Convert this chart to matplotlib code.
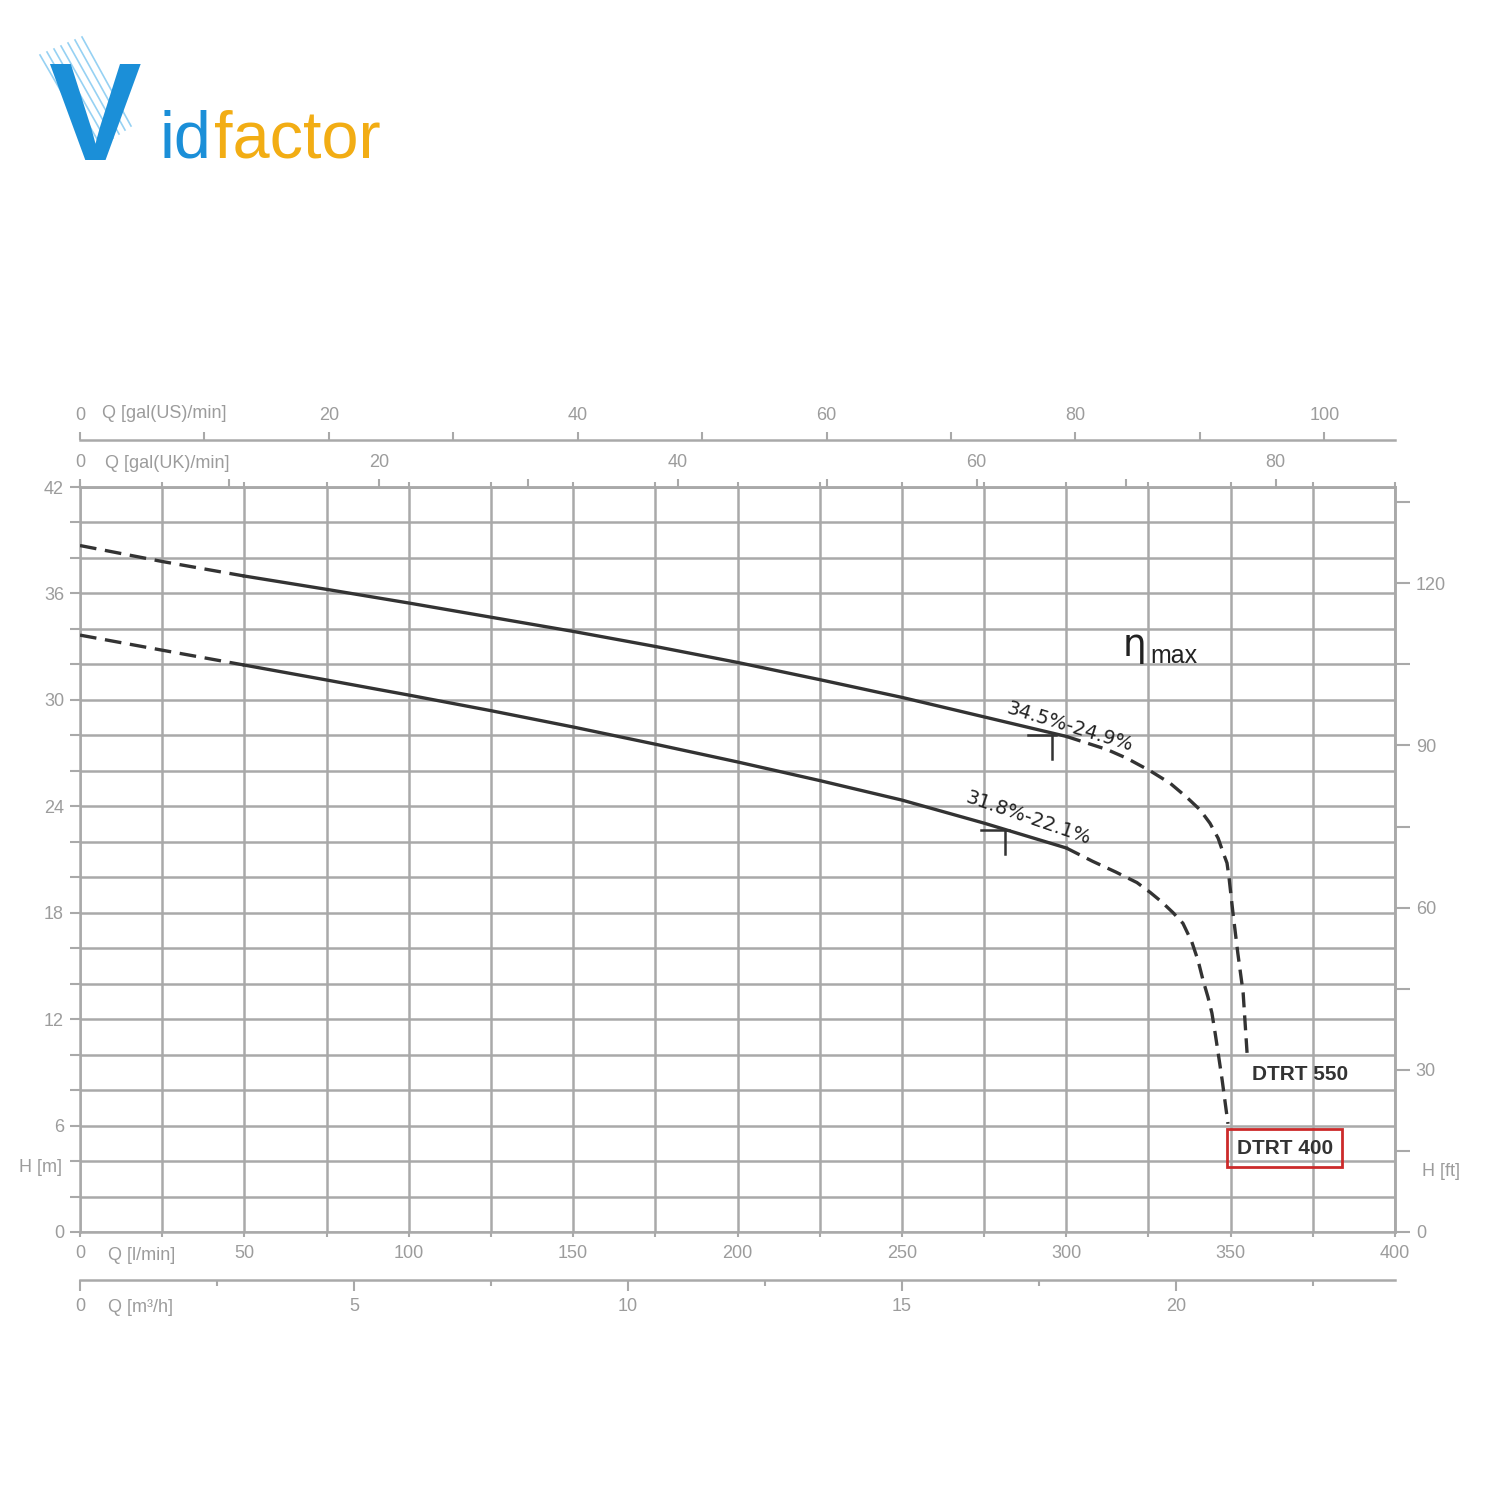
import numpy as np
import matplotlib
matplotlib.use("Agg")
import matplotlib.pyplot as plt
from matplotlib.ticker import FixedLocator

# pump curves, Q in l/min, H in m
q_550 = [0, 25, 50, 75, 100, 125, 150, 175, 200, 225, 250, 275, 300,
         312.4, 318.5, 325.5, 331.6, 336.7, 340.7, 343.7, 346.2, 347.7, 348.9,
         349.5, 350.7, 352.2, 353.8, 355.0]
h_550 = [38.7, 37.8, 36.98, 36.23, 35.46, 34.66, 33.86, 33.01, 32.11, 31.14, 30.14, 29.04, 27.94,
         27.2, 26.7, 26.0, 25.3, 24.5, 23.8, 23.05, 22.2, 21.4, 20.8,
         20.0, 18.0, 15.7, 13.5, 10.1]

q_400 = [0, 25, 50, 75, 100, 125, 150, 175, 200, 225, 250, 275, 300,
         308.0, 315.0, 321.5, 325.5, 329.1, 332.5, 335.5, 338.2, 340.1, 341.6,
         343.1, 344.3, 345.3, 346.2, 347.4, 349.2]
h_400 = [33.65, 32.8, 31.96, 31.12, 30.27, 29.39, 28.47, 27.5, 26.5, 25.45, 24.35, 23.05, 21.65,
         20.9, 20.3, 19.7, 19.15, 18.6, 18.0, 17.4, 16.35, 15.3, 14.2,
         13.25, 12.35, 11.2, 10.1, 8.6, 6.1]

# working range drawn solid
q_solid = (50, 300)

# efficiency markers and labels
bep_q = [295.7, 281.4]
bep_h = [28.0, 22.66]
eff_labels = ["34.5%-24.9%", "31.8%-22.1%"]
eff_q = [301.1, 288.4]
eff_h = [28.47, 23.34]
eff_rot = [-17, -19]

x_ticks = np.arange(0, 401, 25)
y_ticks = np.arange(0, 43, 2)
uk_ticks = np.arange(0, 81, 10)
us_ticks = np.arange(0, 101, 10)
m3_ticks = [0, 5, 10, 15, 20]
ft_ticks = np.arange(0, 136, 15)

GRID = "#a9a9a9"
TXT = "#9c9c9c"
CURVE = "#333333"
plt.rcParams["font.family"] = ["Liberation Sans", "DejaVu Sans"]

fig = plt.figure(figsize=(15, 15), dpi=100)
fig.patch.set_facecolor("white")
W = 1500.0


def fx(px):
    return px / W


def fy(py):
    return 1 - py / W


ax = fig.add_axes([fx(80), fy(1232), 1315 / W, 745 / W])
ax.set_xlim(0, 400)
ax.set_ylim(0, 42)

ax.set_xticks(x_ticks)
ax.set_xticklabels([str(v) if v % 50 == 0 else "" for v in x_ticks])
ax.set_yticks(y_ticks)
ax.set_yticklabels([str(v) if v % 6 == 0 else "" for v in y_ticks])
ax.grid(True, color=GRID, lw=1.8)
ax.set_axisbelow(True)
for s in ax.spines.values():
    s.set_color(GRID)
    s.set_linewidth(1.8)
ax.tick_params(axis="x", direction="out", length=3.6, width=1.5, color=GRID, pad=6,
               labelsize=13, labelcolor=TXT, top=True)
ax.tick_params(axis="y", direction="out", length=7.5, width=1.5, color=GRID, pad=4,
               labelsize=13, labelcolor=TXT)

# secondary scales
uk = ax.secondary_xaxis("top", functions=(lambda q: q / 4.546, lambda g: g * 4.546))
uk.set_xticks(uk_ticks)
uk.set_xticklabels([str(v) if v % 20 == 0 else "" for v in uk_ticks])
us = ax.secondary_xaxis(1.063, functions=(lambda q: q / 3.785, lambda g: g * 3.785))
us.set_xticks(us_ticks)
us.set_xticklabels([str(v) if v % 20 == 0 else "" for v in us_ticks])
m3 = ax.secondary_xaxis(-0.064, functions=(lambda q: q * 0.06, lambda m: m / 0.06))
m3.set_xticks(m3_ticks)
m3.xaxis.set_minor_locator(FixedLocator([2.5, 7.5, 12.5, 17.5, 22.5]))
ft = ax.secondary_yaxis("right", functions=(lambda m: m / 0.3048, lambda f: f * 0.3048))
ft.set_yticks(ft_ticks)
ft.set_yticklabels([str(v) if v % 30 == 0 else "" for v in ft_ticks])

for sec in (uk, us, m3):
    for s in sec.spines.values():
        s.set_color(GRID)
        s.set_linewidth(1.8)
    sec.tick_params(axis="x", which="major", length=5.5, width=1.5, color=GRID, pad=6,
                    labelsize=13, labelcolor=TXT)
m3.tick_params(axis="x", which="major", length=8, pad=5)
m3.tick_params(axis="x", which="minor", length=4, width=1.5, color=GRID)
for s in ft.spines.values():
    s.set_color(GRID)
    s.set_linewidth(1.8)
ft.tick_params(axis="y", length=11, width=1.5, color=GRID, pad=4, labelsize=13, labelcolor=TXT)

# curves
for q, h in ((q_550, h_550), (q_400, h_400)):
    q = np.array(q)
    h = np.array(h)
    lo = q <= q_solid[0]
    mid = (q >= q_solid[0]) & (q <= q_solid[1])
    hi = q >= q_solid[1]
    ax.plot(q[lo], h[lo], color=CURVE, lw=2.4, ls=(0, (5, 2.6)), zorder=3)
    ax.plot(q[mid], h[mid], color=CURVE, lw=2.4, zorder=3, solid_joinstyle="round")
    ax.plot(q[hi], h[hi], color=CURVE, lw=2.4, ls=(0, (4.5, 2.4)), zorder=3)

for bq, bh in zip(bep_q, bep_h):
    ax.plot([bq - 7.4, bq + 1.2], [bh, bh], color=CURVE, lw=1.8, zorder=4)
    ax.plot([bq, bq], [bh, bh - 1.35], color=CURVE, lw=1.8, zorder=4)

for lab, q, h, r in zip(eff_labels, eff_q, eff_h, eff_rot):
    ax.text(q, h, lab, rotation=r, ha="center", va="center", fontsize=14,
            family="DejaVu Sans", color="#222222", rotation_mode="anchor", zorder=5)

ax.text(317, 32.5, "\u03b7", fontsize=27, family="DejaVu Sans", color="#222222",
        ha="left", va="baseline")
ax.text(325.5, 32.07, "max", fontsize=18, color="#222222", ha="left", va="baseline")

ax.text(356.5, 8.57, "DTRT 550", fontsize=15, fontweight="bold", color="#333333",
        ha="left", va="baseline")
ax.text(366.5, 4.73, "DTRT 400", fontsize=15, fontweight="bold", color="#333333",
        ha="center", va="center",
        bbox=dict(boxstyle="square,pad=0.45", fc="none", ec="#cc2a2a", lw=2))

# axis titles
lbl = dict(fontsize=13, color=TXT, va="center")
fig.text(fx(108), fy(1255), "Q [l/min]", ha="left", **lbl)
fig.text(fx(108), fy(1308), "Q [m\u00b3/h]", ha="left", **lbl)
fig.text(fx(102), fy(414), "Q [gal(US)/min]", ha="left", **lbl)
fig.text(fx(105), fy(464), "Q [gal(UK)/min]", ha="left", **lbl)
fig.text(fx(62), fy(1168), "H [m]", ha="right", **lbl)
fig.text(fx(1422), fy(1172), "H [ft]", ha="left", **lbl)

# logo
for i in range(7):
    fig.add_artist(plt.Line2D([fx(40 + 7 * i), fx(95 + 6 * i)], [fy(55 - 3 * i), fy(150 - 4 * i)],
                              color="#7cc6f0", lw=1.2, alpha=0.8))
fig.text(fx(48), fy(160), "V", fontsize=100, fontweight="bold", color="#1b8fd8",
         ha="left", va="baseline")
fig.text(fx(160), fy(158), "id", fontsize=48, color="#1b8fd8", ha="left", va="baseline")
fig.text(fx(214), fy(158), "factor", fontsize=48, color="#f2ad14", ha="left", va="baseline")

fig.savefig("out.png", dpi=100, facecolor="white")
